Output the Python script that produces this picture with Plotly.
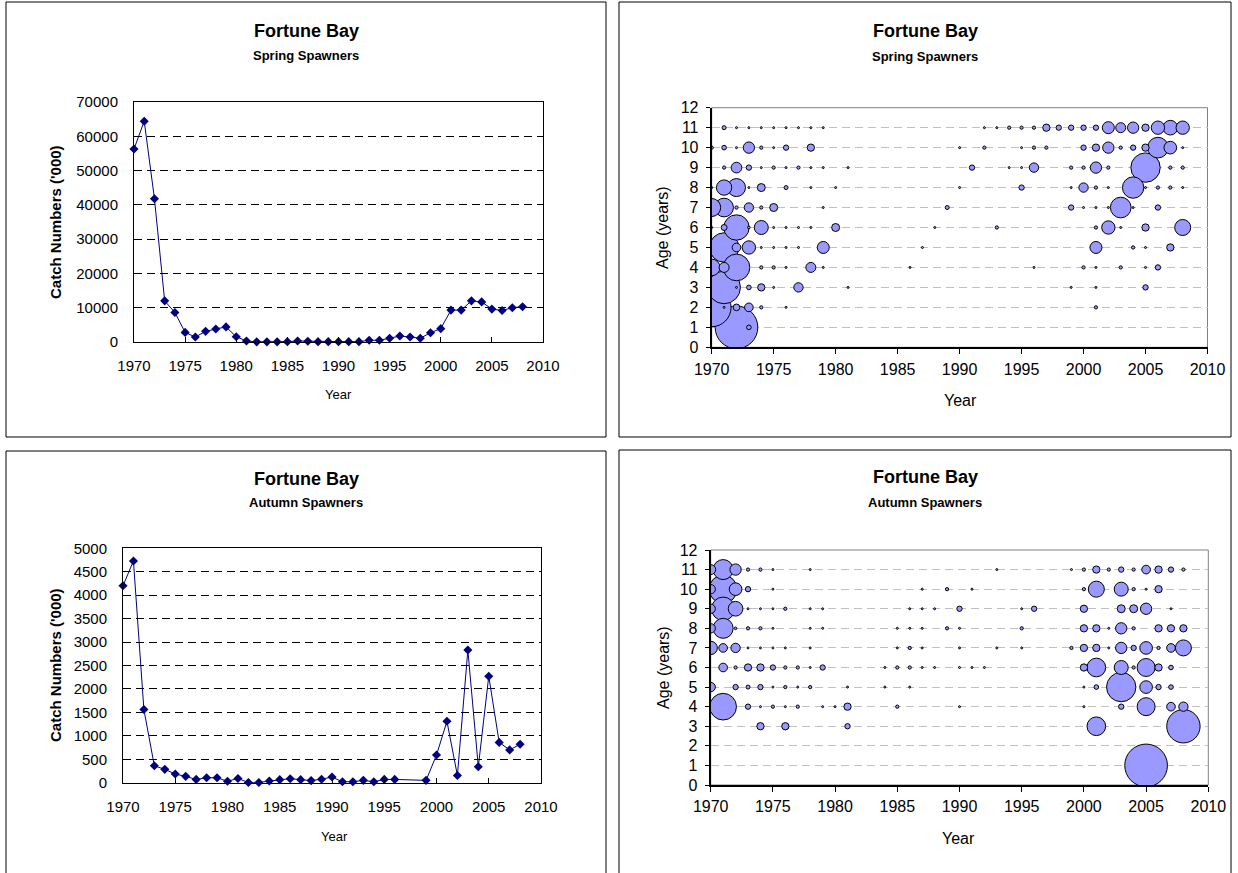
import plotly.graph_objects as go

W, H = 1238, 873
FONT = "Liberation Sans, Arial, sans-serif"

# ---------------- Line charts: total catch numbers ('000) ----------------
spring_years = list(range(1970, 2009))
spring_catch = [56300, 64400, 41800, 12000, 8600, 2800, 1450, 3100, 3800, 4400,
                1550, 300, 50, 50, 50, 100, 300, 200, 100, 100,
                100, 100, 100, 500, 500, 1100, 1750, 1450, 1100, 2700,
                3900, 9300, 9300, 12000, 11700, 9600, 9200, 10000, 10300]

autumn_years = [1970, 1971, 1972, 1973, 1974, 1975, 1976, 1977, 1978, 1979,
                1980, 1981, 1982, 1983, 1984, 1985, 1986, 1987, 1988, 1989,
                1990, 1991, 1992, 1993, 1994, 1995, 1996, 1999,
                2000, 2001, 2002, 2003, 2004, 2005, 2006, 2007, 2008]
autumn_catch = [4200, 4730, 1560, 360, 285, 185, 135, 70, 105, 105,
                30, 90, 5, 5, 35, 65, 85, 65, 45, 75,
                120, 20, 20, 50, 20, 70, 70, 50,
                590, 1310, 155, 2830, 340, 2270, 860, 700, 820]

# ---------------- Bubble charts: catch at age (relative numbers) ----------------
spring_bub_years = [1970, 1971, 1972, 1973, 1974, 1975, 1976, 1977, 1978, 1979,
                    1980, 1981, 1986, 1987, 1988, 1989, 1990, 1991, 1992, 1993,
                    1994, 1995, 1996, 1997, 1998, 1999, 2000, 2001, 2002, 2003,
                    2004, 2005, 2006, 2007, 2008]
spring_bub_ages = [
    [10, 8, 7, 6, 4, 2],
    [11, 10, 9, 8, 7, 6, 5, 4, 3, 2],
    [11, 10, 9, 8, 7, 6, 5, 4, 3, 2, 1],
    [11, 10, 9, 8, 7, 6, 5, 3, 2, 1],
    [11, 10, 9, 8, 7, 6, 5, 4, 3, 2],
    [11, 10, 9, 7, 6, 5, 4, 3],
    [11, 10, 9, 8, 6, 5, 4, 2],
    [11, 9, 6, 5, 3],
    [11, 10, 9, 8, 6, 4],
    [11, 9, 7, 5, 4],
    [8, 6],
    [9, 3],
    [4],
    [5],
    [6],
    [7],
    [10, 8],
    [9],
    [11, 10],
    [11, 6],
    [11, 9],
    [11, 10, 9, 8],
    [11, 10, 9, 4],
    [11, 10],
    [11],
    [11, 9, 8, 7, 3],
    [11, 10, 9, 8, 7, 4],
    [11, 10, 9, 8, 7, 6, 5, 4, 3, 2],
    [11, 10, 9, 8, 7, 6],
    [11, 10, 7, 6, 4],
    [11, 10, 8, 7, 5],
    [11, 10, 9, 8, 6, 5, 4, 3],
    [11, 10, 8, 7, 4],
    [11, 10, 9, 8, 5],
    [11, 10, 9, 8, 6],
]
spring_bub_values = [
    [6, 1, 182, 1, 156, 841],
    [9, 12, 6, 132, 196, 20, 484, 56, 600, 1],
    [1, 1, 64, 182, 6, 361, 42, 400, 1, 25, 1024],
    [1, 72, 16, 1, 49, 4, 100, 12, 42, 12],
    [1, 6, 1, 36, 6, 110, 1, 6, 30, 6],
    [1, 1, 6, 36, 1, 1, 6, 1],
    [1, 16, 1, 9, 1, 1, 1, 1],
    [1, 6, 1, 1, 49],
    [1, 30, 1, 1, 1, 56],
    [1, 1, 1, 81, 1],
    [1, 36],
    [1, 1],
    [1],
    [1],
    [1],
    [9],
    [1, 1],
    [16],
    [1, 6],
    [1, 6],
    [6, 1],
    [6, 1, 1, 16],
    [6, 6, 49, 1],
    [30, 6],
    [16],
    [16, 6, 1, 16, 1],
    [16, 16, 6, 49, 1, 6],
    [16, 30, 72, 6, 1, 6, 81, 1, 1, 6],
    [81, 72, 6, 1, 1, 100],
    [56, 6, 240, 1, 6],
    [72, 16, 256, 1, 6],
    [30, 30, 484, 1, 30, 1, 1, 16],
    [100, 240, 6, 16, 16],
    [121, 90, 6, 6, 30],
    [100, 1, 6, 1, 144],
]

autumn_bub_years = [1970, 1971, 1972, 1973, 1974, 1975, 1976, 1977, 1978, 1979,
                    1980, 1981, 1984, 1985, 1986, 1987, 1988, 1989, 1990, 1991,
                    1992, 1993, 1995, 1996, 1999, 2000, 2001, 2002, 2003, 2004,
                    2005, 2006, 2007, 2008]
autumn_bub_ages = [
    [11, 10, 9, 8, 7, 5],
    [11, 10, 9, 8, 7, 6, 4],
    [11, 10, 9, 8, 7, 6, 5],
    [11, 10, 9, 8, 7, 6, 5, 4],
    [11, 9, 8, 7, 6, 5, 4, 3],
    [11, 10, 9, 8, 7, 6, 5, 4],
    [9, 7, 6, 5, 4, 3],
    [6, 5, 4],
    [11, 9, 8, 7, 6, 5],
    [9, 8, 6, 4],
    [4],
    [5, 4, 3],
    [6, 5],
    [8, 7, 6, 4],
    [9, 8, 7, 6, 5],
    [10, 9, 8, 7, 6],
    [9, 6],
    [10, 8],
    [9, 8, 7, 6, 4],
    [10, 6],
    [6],
    [11, 7],
    [9, 8, 7],
    [9],
    [11, 7],
    [11, 10, 9, 8, 7, 6, 5, 4],
    [11, 10, 8, 7, 6, 5, 3],
    [11, 8, 7],
    [11, 10, 9, 8, 7, 6, 5, 4],
    [11, 10, 9, 8, 7, 6],
    [11, 10, 9, 7, 6, 5, 4, 1],
    [11, 10, 8, 7, 6, 5],
    [11, 9, 8, 7, 6, 5, 4],
    [11, 8, 7, 4, 3],
]
autumn_bub_values = [
    [56, 49, 49, 49, 100, 49],
    [225, 441, 306, 225, 42, 42, 400],
    [72, 90, 121, 4, 49, 6, 16],
    [6, 16, 1, 6, 1, 30, 9, 16],
    [6, 1, 6, 1, 30, 16, 1, 30],
    [1, 1, 1, 1, 1, 16, 1, 6],
    [6, 1, 6, 6, 1, 30],
    [6, 1, 6],
    [1, 1, 1, 1, 1, 6],
    [1, 1, 16, 1],
    [1],
    [1, 30, 16],
    [1, 1],
    [1, 1, 6, 6],
    [1, 1, 6, 6, 1],
    [1, 1, 1, 1, 1],
    [1, 1],
    [6, 6],
    [16, 1, 1, 1, 1],
    [1, 1],
    [1],
    [1, 1],
    [1, 6, 1],
    [16],
    [1, 6],
    [6, 6, 30, 30, 30, 30, 1, 1],
    [30, 144, 30, 30, 196, 12, 196],
    [6, 1, 1],
    [16, 110, 36, 72, 72, 110, 484, 16],
    [6, 6, 36, 6, 16, 6],
    [42, 1, 72, 90, 182, 90, 182, 1024],
    [30, 30, 30, 6, 30, 16],
    [16, 1, 30, 42, 12, 12, 42],
    [6, 30, 144, 49, 625],
]

TITLE = "Fortune Bay"
SPRING = "Spring Spawners"
AUTUMN = "Autumn Spawners"
YLAB_LINE = "Catch Numbers ('000)"
YLAB_BUB = "Age (years)"
XLAB = "Year"


def fx(p):
    return p / W


def fy(p):
    return 1 - p / H


fig = go.Figure()

# line charts
for yrs, vals, xa, ya in [(spring_years, spring_catch, "x", "y"),
                          (autumn_years, autumn_catch, "x3", "y3")]:
    fig.add_trace(go.Scatter(
        x=yrs, y=vals, mode="lines+markers", xaxis=xa, yaxis=ya,
        line=dict(color="#000080", width=1),
        marker=dict(symbol="diamond", size=7, color="#000080"),
        cliponaxis=False, showlegend=False, hoverinfo="x+y"))

# bubble charts
MAX_D = 42.7  # diameter (px) of the largest bubble in each chart
for yrs, ages, vals, xa, ya in [
        (spring_bub_years, spring_bub_ages, spring_bub_values, "x2", "y2"),
        (autumn_bub_years, autumn_bub_ages, autumn_bub_values, "x4", "y4")]:
    pts = []
    for yr, al, vl in zip(yrs, ages, vals):
        for a, v in zip(al, vl):
            pts.append((yr, a, v))
    pts.sort(key=lambda t: -t[2])  # draw large bubbles first
    vmax = max(p[2] for p in pts)
    fig.add_trace(go.Scatter(
        x=[p[0] for p in pts], y=[p[1] for p in pts], mode="markers",
        xaxis=xa, yaxis=ya,
        marker=dict(size=[p[2] for p in pts], sizemode="area",
                    sizeref=2.0 * vmax / (MAX_D ** 2), sizemin=1,
                    color="#9999FF", opacity=1,
                    line=dict(color="black", width=1)),
        cliponaxis=True, showlegend=False, hoverinfo="x+y"))

tick_font = dict(family=FONT, size=15, color="black")

# domains (pixel -> paper)
dom = {
    "tl": ([134, 543], [102, 342]),
    "tr": ([711.7, 1207.5], [107.7, 347.3]),
    "bl": ([123, 541], [548.3, 782.7]),
    "br": ([710.7, 1208.3], [550, 785]),
}


def xd(k):
    a, b = dom[k][0]
    return [fx(a), fx(b)]


def yd(k):
    a, b = dom[k][1]
    return [fy(b), fy(a)]


line_x = dict(range=[1970, 2010], tick0=1970, dtick=5, showgrid=False, zeroline=False,
              showline=True, linecolor="black", linewidth=1, mirror=True,
              ticks="inside", ticklen=5, tickcolor="black", tickfont=tick_font,
              ticklabelstandoff=10, fixedrange=True, automargin=False)
line_y = dict(tick0=0, showgrid=True, gridcolor="black", griddash="8px,5px", gridwidth=1,
              zeroline=False, showline=True, linecolor="black", linewidth=1, mirror=True,
              ticks="", tickfont=tick_font, tickformat="d", ticklabelstandoff=12,
              fixedrange=True, automargin=False)
bub_x = dict(range=[1970, 2010], tick0=1970, dtick=5, showgrid=False, zeroline=False,
             showline=True, linecolor="black", linewidth=2,
             ticks="outside", ticklen=5, tickcolor="black", tickwidth=1,
             tickfont=dict(family=FONT, size=16, color="black"),
             ticklabelstandoff=1, fixedrange=True, automargin=False)
bub_y = dict(range=[0, 12], tick0=0, dtick=1, showgrid=True, gridcolor="#c0c0c0",
             griddash="8px,5px", gridwidth=1, zeroline=False, showline=True,
             linecolor="black", linewidth=2, ticks="outside", ticklen=4,
             tickcolor="black", tickwidth=1,
             tickfont=dict(family=FONT, size=16, color="black"),
             ticklabelstandoff=4, fixedrange=True, automargin=False)

fig.update_layout(
    template="none",
    width=W, height=H, margin=dict(l=0, r=0, t=0, b=0, pad=0, autoexpand=False),
    paper_bgcolor="white", plot_bgcolor="white", showlegend=False,
    font=dict(family=FONT, color="black"),
    xaxis=dict(line_x, domain=xd("tl"), anchor="y"),
    yaxis=dict(line_y, domain=yd("tl"), anchor="x", range=[0, 70000], dtick=10000),
    xaxis2=dict(bub_x, domain=xd("tr"), anchor="y2"),
    yaxis2=dict(bub_y, domain=yd("tr"), anchor="x2"),
    xaxis3=dict(line_x, domain=xd("bl"), anchor="y3"),
    yaxis3=dict(line_y, domain=yd("bl"), anchor="x3", range=[0, 5000], dtick=500),
    xaxis4=dict(bub_x, domain=xd("br"), anchor="y4"),
    yaxis4=dict(bub_y, domain=yd("br"), anchor="x4"),
)

shapes = []
# panel frames
for x0, y0, x1, y1 in [(6, 2, 606, 437), (619, 2, 1231, 437),
                       (6, 451, 606, 880), (619, 450, 1231, 880)]:
    shapes.append(dict(type="rect", xref="paper", yref="paper",
                       x0=fx(x0), x1=fx(x1), y0=fy(y1), y1=fy(y0),
                       line=dict(color="black", width=1), fillcolor="rgba(0,0,0,0)",
                       layer="below"))
# bubble plot-area outlines (grey, top/right)
for ax in ["2", "4"]:
    shapes.append(dict(type="rect", xref=f"x{ax} domain", yref=f"y{ax} domain",
                       x0=0, x1=1, y0=0, y1=1,
                       line=dict(color="#808080", width=1), layer="below"))
fig.update_layout(shapes=shapes)

ann = []


def text(x, y, s, size, bold=False, angle=0):
    ann.append(dict(x=fx(x), y=fy(y), xref="paper", yref="paper", showarrow=False,
                    text=f"<b>{s}</b>" if bold else s, textangle=angle,
                    xanchor="center", yanchor="middle",
                    font=dict(family=FONT, size=size, color="black")))


# titles
text(306, 31, TITLE, 18, True)
text(306, 55, SPRING, 13, True)
text(925, 31, TITLE, 18, True)
text(925, 57, SPRING, 13, True)
text(306, 479, TITLE, 18, True)
text(306, 503, AUTUMN, 13, True)
text(925, 477, TITLE, 18, True)
text(925, 503, AUTUMN, 13, True)
# axis titles
text(55, 222, YLAB_LINE, 15, True, -90)
text(338, 395, XLAB, 13)
text(663, 228, YLAB_BUB, 16, False, -90)
text(960, 401, XLAB, 16)
text(55, 665, YLAB_LINE, 15, True, -90)
text(334, 836, XLAB, 13)
text(663, 668, YLAB_BUB, 16, False, -90)
text(958, 838, XLAB, 16)
fig.update_layout(annotations=ann)

# remove the default page margin so the figure starts at the window's top-left corner
fig.write_html("out.html",
               config={"displayModeBar": False, "staticPlot": True},
               post_script="document.body.style.margin='0';document.body.style.padding='0';"
                           "document.documentElement.style.overflow='hidden';")
